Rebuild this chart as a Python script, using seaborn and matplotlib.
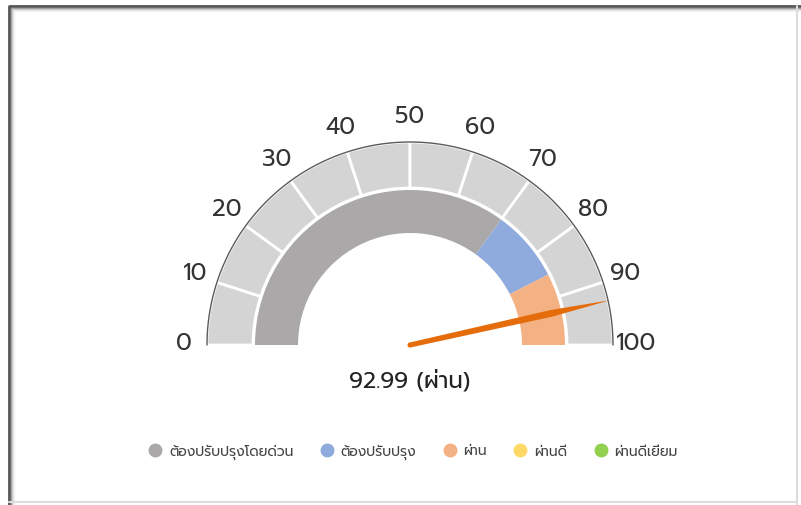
import numpy as np
import seaborn as sns
import matplotlib
matplotlib.use("Agg")
import matplotlib.pyplot as plt
from matplotlib.patches import Wedge, Polygon, Circle
from matplotlib.lines import Line2D

# ข้อมูล
band_names = ["ต้องปรับปรุงโดยด่วน", "ต้องปรับปรุง", "ผ่าน", "ผ่านดี", "ผ่านดีเยี่ยม"]
band_start = [0, 70, 85, 100, 100]
band_end = [70, 85, 100, 100, 100]
band_colors = ["#ABA8A9", "#8FAADC", "#F4B183", "#FFD966", "#92D050"]
tick_values = [0, 10, 20, 30, 40, 50, 60, 70, 80, 90, 100]
value = 92.99
value_label = "92.99 (ผ่าน)"

sns.set_theme(style="white")
plt.rcParams["font.family"] = ["Prompt", "Noto Sans Thai", "DejaVu Sans"]

fig = plt.figure(figsize=(8.01, 5.06), dpi=100)
ax = fig.add_axes([0, 0, 1, 1])
ax.set_xlim(0, 801)
ax.set_ylim(0, 506)
ax.set_aspect("equal")
ax.axis("off")

cx, cy = 410, 160
r_out, r_mid, r_in = 203, 157, 112


def ang(v):
    return 180 - v * 1.8


# วงนอก (สเกล)
for a, b in zip(tick_values[:-1], tick_values[1:]):
    ax.add_patch(Wedge((cx, cy), r_out, ang(b), ang(a), width=r_out - r_mid,
                       facecolor="#D4D4D4", edgecolor="white", lw=2))
t = np.linspace(0, np.pi, 200)
ax.plot(cx + r_out * np.cos(t), cy + r_out * np.sin(t), color="#5A5A5A", lw=1)

# วงใน (ช่วงเกณฑ์)
for s, e, c in zip(band_start, band_end, band_colors):
    if e > s:
        ax.add_patch(Wedge((cx, cy), r_mid - 2, ang(e), ang(s),
                           width=r_mid - 2 - r_in, facecolor=c, edgecolor="none"))

# ป้ายสเกล
for v in tick_values:
    th = np.radians(ang(v))
    ax.text(cx + 226 * np.cos(th), cy + 228 * np.sin(th) + 2, str(v),
            ha="center", va="center", fontsize=17, color="#333333")

# เข็ม
th = np.radians(ang(value))
ux, uy = np.cos(th), np.sin(th)
px, py = -uy, ux
hw0, hw1, rw = 2.5, 3.4, 145
needle = [(cx + px * hw0, cy + py * hw0),
          (cx + ux * rw + px * hw1, cy + uy * rw + py * hw1),
          (cx + ux * (r_out + 2), cy + uy * (r_out + 2)),
          (cx + ux * rw - px * hw1, cy + uy * rw - py * hw1),
          (cx - px * hw0, cy - py * hw0)]
ax.add_patch(Polygon(needle, closed=True, facecolor="#E46C0A", edgecolor="none"))
ax.add_patch(Circle((cx, cy), hw0, facecolor="#E46C0A", edgecolor="none"))

ax.text(cx, 125, value_label, ha="center", va="center", fontsize=16.5, color="#222222")

# คำอธิบาย
handles = [Line2D([], [], marker="o", ls="none", markersize=9,
                  markerfacecolor=c, markeredgecolor=c) for c in band_colors]
fig.legend(handles, band_names, loc="center", bbox_to_anchor=(413 / 801, 54 / 506),
           ncol=5, frameon=False, fontsize=10, handlelength=1.0, handletextpad=0.5,
           columnspacing=1.9, labelcolor="#444444")

# กรอบ
ax.plot([9, 9, 801], [0, 499, 499], color="#555555", lw=2, solid_capstyle="butt")
for i, g in enumerate(["#9A9A9A", "#C4C4C4", "#E2E2E2", "#F2F2F2"]):
    ax.plot([11 + i, 11 + i, 801], [0, 497 - i, 497 - i], color=g, lw=1)
ax.plot([797, 797], [0, 499], color="#DDDDDD", lw=1.5)
ax.plot([9, 797], [3, 3], color="#DDDDDD", lw=1.5)

fig.savefig("out.png", dpi=100)
